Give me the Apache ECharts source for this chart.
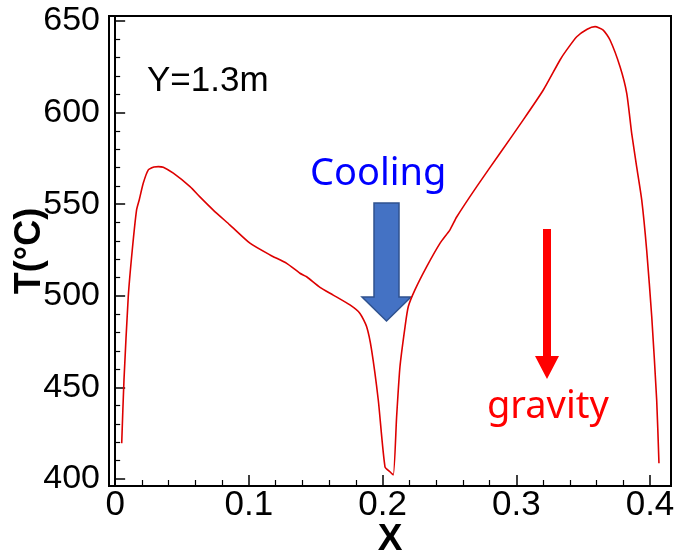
<!DOCTYPE html>
<html>
<head>
<meta charset="utf-8">
<script src="https://cdn.jsdelivr.net/npm/echarts@6/dist/echarts.min.js"></script>
<style>
  html, body { margin: 0; padding: 0; background: #fff; }
  #chart { width: 674px; height: 556px; }
</style>
</head>
<body>
<div id="chart"></div>
<script>
// Temperature profile across the section at Y = 1.3 m
const xPos = [
  0.0049, 0.0066, 0.0098, 0.0128, 0.0160, 0.0180, 0.0210, 0.0248, 0.0290, 0.0323,
  0.0360, 0.0435, 0.0560, 0.0634, 0.0734, 0.0859, 0.1008, 0.1158, 0.1283, 0.1382,
  0.1432, 0.1532, 0.1631, 0.1756, 0.1831, 0.1881, 0.1918, 0.1968, 0.2018, 0.2055,
  0.2080, 0.2105, 0.2130, 0.2168, 0.2192, 0.2242, 0.2330, 0.2429, 0.2504, 0.2554,
  0.2704, 0.2878, 0.3052, 0.3202, 0.3327, 0.3377, 0.3452, 0.3530, 0.3589, 0.3650,
  0.3701, 0.3776, 0.3826, 0.3863, 0.3900, 0.3938, 0.3975, 0.4013, 0.4050, 0.4067
];
const temperature = [
  419.5, 454.0, 499.5, 525.0, 546.8, 552.3, 561.4, 568.7, 570.3, 570.5,
  570.2, 566.9, 559.6, 554.0, 546.8, 538.6, 528.7, 522.3, 517.7, 512.3,
  510.4, 504.6, 500.4, 495.0, 490.4, 483.1, 470.4, 443.0, 406.7, 404.0,
  402.2, 434.0, 461.3, 483.1, 494.0, 503.2, 515.9, 528.6, 536.0, 543.0,
  559.6, 577.8, 596.0, 612.3, 628.7, 634.2, 641.4, 645.5, 646.9, 645.0,
  639.6, 625.0, 610.5, 588.7, 570.5, 552.3, 525.0, 488.6, 443.0, 408.6
];

// Axis ranges and tick values
const xRange = [-0.0046, 0.4157];
const yRange = [396.2, 652.7];
const xMajorTicks = [0, 0.1, 0.2, 0.3, 0.4];
const xMinorTicks = [0.02, 0.04, 0.06, 0.08, 0.12, 0.14, 0.16, 0.18, 0.22, 0.24, 0.26, 0.28, 0.32, 0.34, 0.36, 0.38];
const yMajorTicks = [400, 450, 500, 550, 600, 650];
const yMinorTicks = [410, 420, 430, 440, 460, 470, 480, 490, 510, 520, 530, 540, 560, 570, 580, 590, 610, 620, 630, 640];

const sans = "'Liberation Sans', Arial, sans-serif";
const uiFont = "'Noto Sans', 'Open Sans', sans-serif";

const chart = echarts.init(document.getElementById('chart'), null, { renderer: 'canvas' });

const curve = xPos.map((x, i) => [x, temperature[i]]);

chart.setOption({
  animation: false,
  backgroundColor: '#ffffff',
  grid: {
    left: 109, right: 3, top: 16, bottom: 70,
    containLabel: false,
    outerBoundsMode: 'none',
    show: true,
    borderColor: '#000',
    borderWidth: 2,
    backgroundColor: 'transparent'
  },
  xAxis: [
    {
      type: 'value', position: 'bottom',
      min: xRange[0], max: xRange[1],
      name: 'X', nameLocation: 'middle', nameGap: 35,
      nameMoveOverlap: false,
      nameTextStyle: { fontFamily: sans, fontWeight: 'bold', fontSize: 37, color: '#000' },
      axisLine: { show: true, lineStyle: { color: '#000', width: 2 } },
      axisTick: { show: true, inside: true, length: 11, lineStyle: { color: '#000', width: 1.5 }, customValues: xMajorTicks },
      axisLabel: {
        show: true, margin: 2, color: '#000', fontFamily: sans, fontSize: 35,
        customValues: xMajorTicks,
        formatter: v => String(+v.toFixed(2))
      },
      splitLine: { show: false }
    },
    {
      type: 'value', position: 'bottom',
      min: xRange[0], max: xRange[1],
      axisLine: { show: false },
      axisTick: { show: true, inside: true, length: 6, lineStyle: { color: '#000', width: 1.2 }, customValues: xMinorTicks },
      axisLabel: { show: false },
      splitLine: { show: false }
    }
  ],
  yAxis: [
    {
      type: 'value', position: 'left',
      min: yRange[0], max: yRange[1],
      name: 'T(°C)', nameLocation: 'middle', nameGap: 61,
      nameMoveOverlap: false,
      nameTextStyle: { fontFamily: sans, fontWeight: 'bold', fontSize: 36, color: '#000' },
      axisLine: { show: true, lineStyle: { color: '#000', width: 2 } },
      axisTick: { show: true, inside: true, length: 10, lineStyle: { color: '#000', width: 1.5 }, customValues: yMajorTicks },
      axisLabel: {
        show: true, margin: 9, color: '#000', fontFamily: sans, fontSize: 34,
        customValues: yMajorTicks
      },
      splitLine: { show: false }
    },
    {
      type: 'value', position: 'left',
      min: yRange[0], max: yRange[1],
      axisLine: { show: false },
      axisTick: { show: true, inside: true, length: 5, lineStyle: { color: '#000', width: 1.2 }, customValues: yMinorTicks },
      axisLabel: { show: false },
      splitLine: { show: false }
    }
  ],
  series: [
    {
      type: 'line',
      xAxisIndex: 0, yAxisIndex: 0,
      data: curve,
      symbol: 'none',
      smooth: 0.2,
      lineStyle: { color: '#dd0000', width: 1.6 }
    }
  ],
  graphic: [
    {
      type: 'text', left: 147, top: 64,
      style: { text: 'Y=1.3m', fontFamily: sans, fontSize: 35, fill: '#000' }
    },
    {
      type: 'text', left: 310, top: 155,
      style: { text: 'Cooling', fontFamily: uiFont, fontSize: 38, fill: '#0000ff' }
    },
    {
      type: 'polygon',
      shape: { points: [[374, 203], [399, 203], [399, 297], [411, 297], [386.5, 321], [362, 297], [374, 297]] },
      style: { fill: '#4472c4', stroke: '#2f528f', lineWidth: 1.5 }
    },
    {
      type: 'polygon',
      shape: { points: [[543, 229], [551, 229], [551, 356], [559, 356], [547, 379], [535, 356], [543, 356]] },
      style: { fill: '#ff0000' }
    },
    {
      type: 'text', left: 487, top: 388,
      style: { text: 'gravity', fontFamily: uiFont, fontSize: 38, fill: '#ff0000' }
    }
  ]
});
</script>
</body>
</html>
